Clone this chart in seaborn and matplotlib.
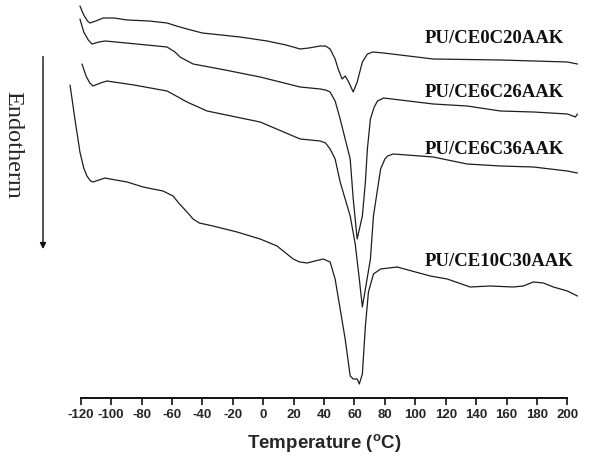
"""
DSC heating curves of the PU/CE series (endotherm down).
"""

import matplotlib
matplotlib.use("Agg")
import matplotlib.pyplot as plt
import seaborn as sns
import pandas as pd

# ─── Data (heat flow in arbitrary units) ───
SAMPLES = ["PU/CE0C20AAK", "PU/CE6C26AAK", "PU/CE6C36AAK", "PU/CE10C30AAK"]

T_CE0C20 = [-120.5, -118.0, -115.5, -113.9, -110.0, -105.3, -98.0, -89.5, -75.0, -63.2,
            -57.0, -50.1, -40.0, -15.2, 2.6, 15.0, 24.3, 30.0, 37.5, 41.0,
            44.0, 47.3, 49.3, 51.9, 53.9, 55.9, 59.2, 61.8, 65.2, 68.5,
            72.0, 79.2, 111.8, 155.9, 200.0, 206.6]
HF_CE0C20 = [39.2, 38.3, 37.7, 37.5, 37.7, 38.0, 38.0, 37.8, 37.7, 37.5,
             37.2, 36.9, 36.5, 36.1, 35.7, 35.3, 34.9, 35.0, 35.2, 35.2,
             34.9, 33.9, 32.9, 31.9, 32.2, 31.7, 30.6, 31.6, 33.6, 34.4,
             34.6, 34.5, 33.9, 33.8, 33.6, 33.4]

T_CE6C26 = [-120.5, -118.0, -115.0, -112.6, -108.0, -104.0, -90.0, -63.2, -58.0, -54.7,
            -46.1, -25.0, -2.0, 24.3, 37.5, 41.0, 44.0, 47.3, 50.6, 53.9,
            57.2, 59.2, 61.8, 65.2, 67.2, 68.5, 70.5, 73.0, 75.2, 79.2,
            111.8, 134.1, 155.9, 177.6, 200.0, 205.3, 206.6]
HF_CE6C26 = [37.9, 36.6, 35.8, 35.4, 35.6, 35.7, 35.5, 35.1, 34.6, 34.1,
             33.4, 32.8, 32.1, 31.1, 30.9, 30.8, 30.6, 29.7, 27.9, 25.9,
             23.9, 19.9, 15.9, 18.2, 21.6, 24.9, 27.9, 29.1, 29.7, 30.0,
             29.4, 29.2, 28.7, 28.6, 28.4, 28.1, 28.4]

T_CE6C36 = [-119.1, -116.5, -114.0, -111.9, -107.0, -102.7, -85.0, -63.2, -56.0, -50.1,
            -36.9, -2.0, 24.3, 37.5, 41.0, 44.0, 47.3, 50.6, 57.2, 60.5,
            63.2, 65.2, 67.2, 70.5, 72.5, 77.2, 80.0, 81.8, 85.5, 111.8,
            134.1, 155.9, 177.6, 200.0, 206.6]
HF_CE6C36 = [33.4, 32.2, 31.5, 31.2, 31.5, 31.7, 31.3, 30.7, 30.1, 29.6,
             28.7, 27.6, 25.9, 25.7, 25.5, 24.9, 23.9, 21.6, 18.2, 15.4,
             11.9, 9.1, 10.9, 13.9, 18.2, 22.9, 23.9, 24.2, 24.4, 24.1,
             23.4, 23.2, 23.1, 22.7, 22.5]

T_CE10C30 = [-127.0, -123.8, -120.5, -118.0, -115.9, -113.5, -111.9, -108.0, -104.0, -100.7,
             -89.5, -79.0, -65.9, -59.3, -55.0, -50.1, -46.1, -42.0, -33.0, -17.2,
             -2.0, 9.1, 19.7, 24.0, 28.9, 34.0, 39.5, 44.0, 47.3, 50.6,
             53.9, 57.2, 59.2, 61.8, 63.2, 65.2, 67.2, 69.2, 72.5, 77.2,
             88.1, 109.8, 121.0, 136.1, 149.3, 164.4, 171.0, 177.6, 184.2, 190.8,
             200.0, 206.6]
HF_CE10C30 = [31.3, 27.9, 24.6, 23.0, 22.2, 21.7, 21.6, 21.8, 22.0, 21.9,
              21.6, 21.1, 20.7, 20.2, 19.4, 18.6, 17.9, 17.5, 17.2, 16.6,
              15.9, 15.2, 13.9, 13.6, 13.5, 13.7, 13.9, 13.6, 11.9, 8.9,
              5.9, 2.2, 1.9, 1.9, 1.4, 2.4, 7.2, 10.6, 12.4, 12.9,
              13.1, 12.2, 11.9, 11.1, 11.2, 11.1, 11.2, 11.6, 11.5, 11.1,
              10.7, 10.2]

X_TICKS = list(range(-120, 201, 20))

# label anchor (temperature, heat flow) for each curve name
LABEL_T = 106.5
LABEL_HF = [36.0, 30.6, 24.9, 13.7]


def build_frame():
    parts = []
    for name, t, hf in zip(SAMPLES,
                           [T_CE0C20, T_CE6C26, T_CE6C36, T_CE10C30],
                           [HF_CE0C20, HF_CE6C26, HF_CE6C36, HF_CE10C30]):
        parts.append(pd.DataFrame({"temperature": t, "heat_flow": hf, "sample": name}))
    return pd.concat(parts, ignore_index=True)


def main():
    sns.set_style("white")
    plt.rcParams["font.family"] = ["Liberation Sans", "DejaVu Sans"]
    plt.rcParams["mathtext.fontset"] = "custom"
    plt.rcParams["mathtext.rm"] = "Liberation Sans:bold"
    plt.rcParams["mathtext.it"] = "Liberation Sans:bold"
    plt.rcParams["mathtext.bf"] = "Liberation Sans:bold"

    df = build_frame()

    fig = plt.figure(figsize=(6.0, 4.64), dpi=100)
    ax = fig.add_axes([0.1142, 0.1401, 0.8517, 0.8599])

    sns.lineplot(data=df, x="temperature", y="heat_flow", units="sample",
                 estimator=None, sort=False, color="#1e1e1e", linewidth=0.9,
                 ax=ax, legend=False)

    for name, hf in zip(SAMPLES, LABEL_HF):
        ax.text(LABEL_T, hf, name, ha="left", va="center", fontsize=13.5,
                fontweight="bold", family=["Liberation Serif", "DejaVu Serif"],
                color="#111111")

    ax.set_xlim(-128, 208)
    ax.set_ylim(0, 39.9)
    for side in ["left", "top", "right"]:
        ax.spines[side].set_visible(False)
    ax.spines["bottom"].set_bounds(-120, 200)
    ax.spines["bottom"].set_linewidth(1.4)
    ax.spines["bottom"].set_color("#111111")
    ax.set_yticks([])
    ax.set_ylabel("")
    ax.set_xticks(X_TICKS)
    ax.set_xticklabels([str(v) for v in X_TICKS], fontsize=9.5, fontweight="bold")
    ax.tick_params(axis="x", direction="out", length=5, width=1.2, pad=2,
                   bottom=True, color="#111111")
    ax.set_xlabel(r"Temperature ($^{\mathrm{o}}$C)", fontsize=13.5,
                  fontweight="bold", labelpad=8)

    # endotherm direction marker
    fig.text(0.022, 0.688, "Endotherm", rotation=270, ha="center", va="center",
             fontsize=17.5, family=["Liberation Serif", "DejaVu Serif"])
    ax.annotate("", xy=(0.0717, 0.455), xytext=(0.0717, 0.882),
                xycoords="figure fraction", textcoords="figure fraction",
                arrowprops=dict(arrowstyle="-|>", color="#111111", lw=1.0,
                                mutation_scale=9))

    fig.savefig("out.png", dpi=100)
    plt.close(fig)


if __name__ == "__main__":
    main()
